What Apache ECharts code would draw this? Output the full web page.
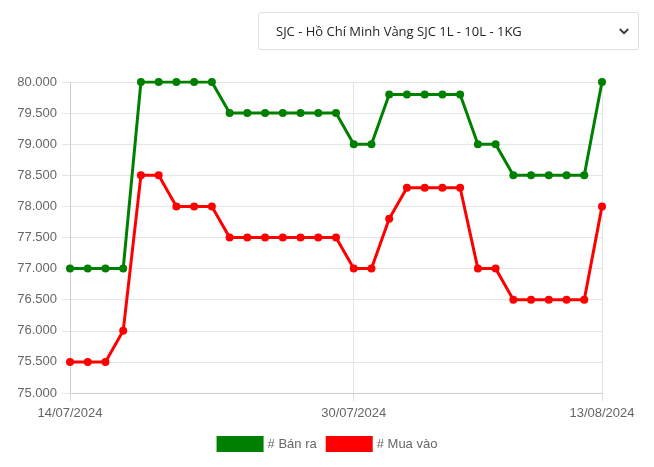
<!DOCTYPE html>
<html>
<head>
<meta charset="UTF-8">
<title>Giá vàng SJC</title>
<script src="https://cdn.jsdelivr.net/npm/echarts@6/dist/echarts.min.js"></script>
<style>
  html, body { margin: 0; padding: 0; background: #fff; }
  #wrap { position: relative; width: 654px; height: 467px; }
  #main { position: absolute; left: 0; top: 0; width: 654px; height: 467px; }
  #sel {
    position: absolute; left: 258px; top: 12px; width: 381px; height: 38px;
    border: 1px solid #dee2e6; border-radius: 2px; background: #fff;
    font-family: "Open Sans", "Noto Sans", sans-serif; font-size: 13px; color: #212529;
    padding: 0 30px 0 17px; -webkit-appearance: none; appearance: none; z-index: 2;
    background-image: url("data:image/svg+xml,%3Csvg xmlns='http://www.w3.org/2000/svg' width='12' height='12' viewBox='0 0 16 16'%3E%3Cpath fill='none' stroke='%23343a40' stroke-width='2.4' stroke-linecap='round' stroke-linejoin='round' d='M3 6l5 5 5-5'/%3E%3C/svg%3E");
    background-repeat: no-repeat; background-position: right 8px center;
  }
</style>
</head>
<body>
<div id="wrap">
  <select id="sel">
    <option>SJC - Hồ Chí Minh Vàng SJC 1L - 10L - 1KG</option>
  </select>
  <div id="main"></div>
</div>
<script type="text/javascript">
// ngày 14/07/2024 -> 13/08/2024
var days = [
  '14/07/2024','15/07/2024','16/07/2024','17/07/2024','18/07/2024','19/07/2024','20/07/2024','21/07/2024',
  '22/07/2024','23/07/2024','24/07/2024','25/07/2024','26/07/2024','27/07/2024','28/07/2024','29/07/2024',
  '30/07/2024','31/07/2024','01/08/2024','02/08/2024','03/08/2024','04/08/2024','05/08/2024','06/08/2024',
  '07/08/2024','08/08/2024','09/08/2024','10/08/2024','11/08/2024','12/08/2024','13/08/2024'
];
// giá bán ra
var banRa = [
  77000, 77000, 77000, 77000, 80000, 80000, 80000, 80000,
  80000, 79500, 79500, 79500, 79500, 79500, 79500, 79500,
  79000, 79000, 79800, 79800, 79800, 79800, 79800, 79000,
  79000, 78500, 78500, 78500, 78500, 78500, 80000
];
// giá mua vào
var muaVao = [
  75500, 75500, 75500, 76000, 78500, 78500, 78000, 78000,
  78000, 77500, 77500, 77500, 77500, 77500, 77500, 77500,
  77000, 77000, 77800, 78300, 78300, 78300, 78300, 77000,
  77000, 76500, 76500, 76500, 76500, 76500, 78000
];
var shownTicks = [0, 16, 30];

function showTick(i) { return shownTicks.indexOf(i) >= 0; }
function fmt(v) { return (v / 1000).toFixed(3); }

var myChart = echarts.init(document.getElementById('main'));
var ff = 'Liberation Sans, Arial, sans-serif';

var option = {
  animation: false,
  textStyle: { color: '#666', fontFamily: ff, fontSize: 13 },
  grid: { left: 70, right: 52, top: 82, bottom: 74 },
  legend: {
    bottom: 10, left: 'center',
    itemWidth: 47, itemHeight: 16, itemGap: 9,
    icon: 'rect',
    textStyle: { color: '#666', fontSize: 13, fontFamily: ff, padding: [0, 0, 0, -1] },
    data: ['# Bán ra', '# Mua vào']
  },
  xAxis: {
    type: 'category',
    data: days,
    boundaryGap: false,
    axisLine: { lineStyle: { color: '#ccc' } },
    axisTick: { show: true, interval: function (i) { return showTick(i); }, length: 8, lineStyle: { color: '#ddd' } },
    axisLabel: { interval: function (i) { return showTick(i); }, color: '#666', fontSize: 13, margin: 14 },
    splitLine: { show: true, interval: function (i) { return showTick(i); }, lineStyle: { color: '#e5e5e5' } }
  },
  yAxis: {
    type: 'value',
    min: 75000, max: 80000, interval: 500,
    axisLine: { show: true, lineStyle: { color: '#ccc' } },
    axisTick: { show: true, length: 8, lineStyle: { color: '#e5e5e5' } },
    axisLabel: { formatter: fmt, color: '#666', fontSize: 13, margin: 13 },
    splitLine: { lineStyle: { color: '#e5e5e5' } }
  },
  series: [
    {
      name: '# Bán ra', type: 'line', data: banRa,
      symbol: 'circle', symbolSize: 8, showAllSymbol: true,
      lineStyle: { width: 3, color: '#008000' },
      itemStyle: { color: '#008000' }
    },
    {
      name: '# Mua vào', type: 'line', data: muaVao,
      symbol: 'circle', symbolSize: 8, showAllSymbol: true,
      lineStyle: { width: 3, color: '#ff0000' },
      itemStyle: { color: '#ff0000' }
    }
  ]
};
myChart.setOption(option);
</script>
</body>
</html>
